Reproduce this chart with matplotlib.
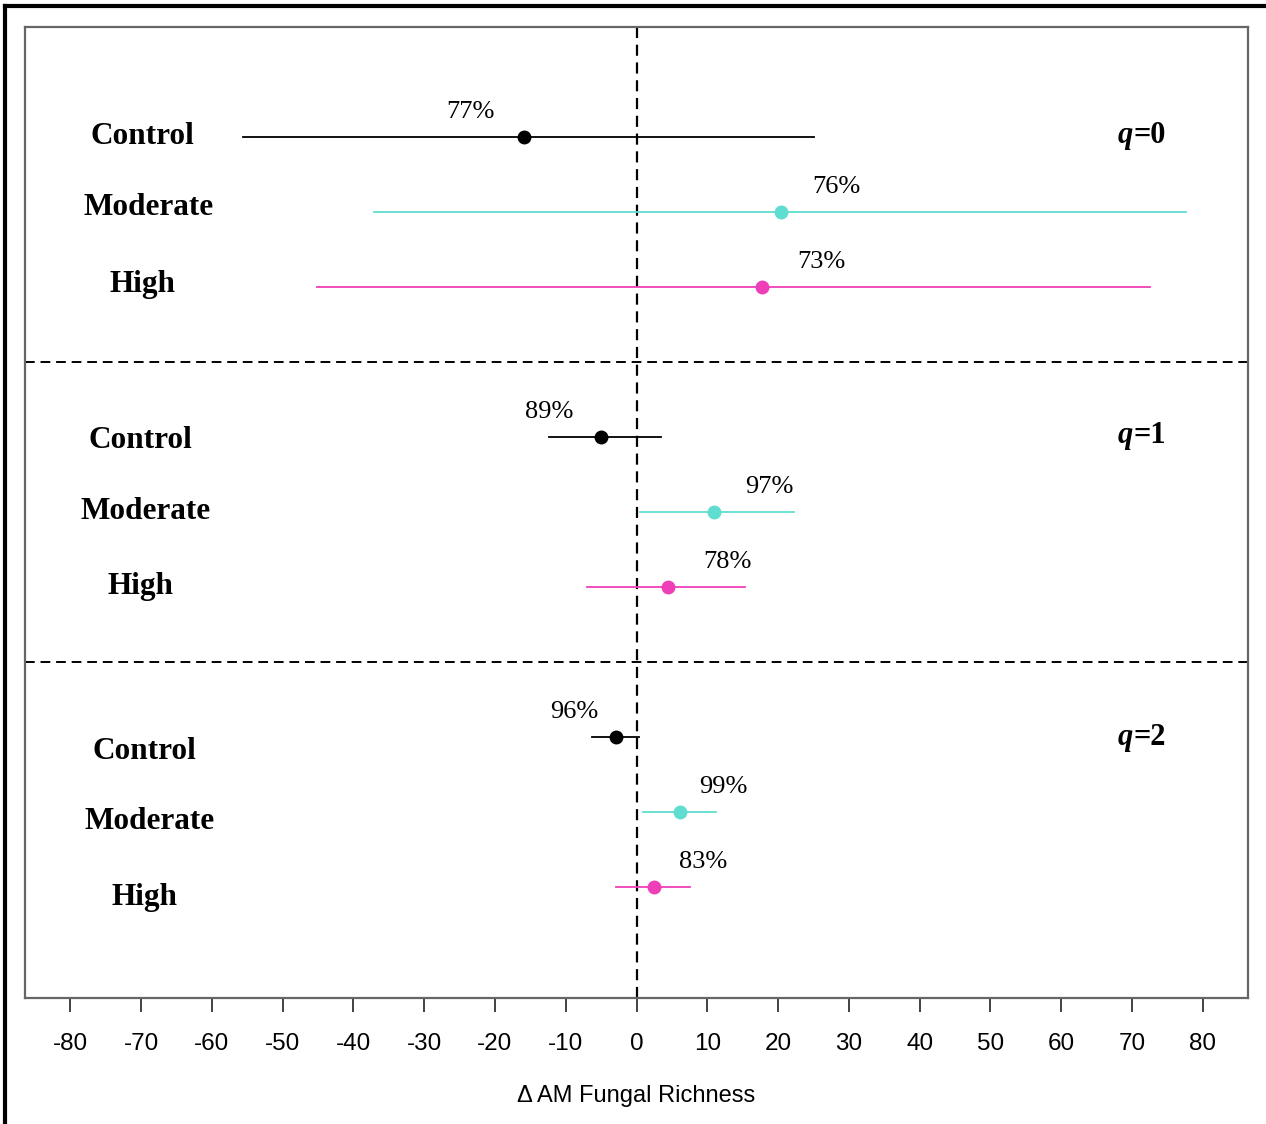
import matplotlib
matplotlib.use("Agg")
import matplotlib.pyplot as plt
from matplotlib.lines import Line2D

# ---- data ----
panels = ["q=0", "q=1", "q=2"]
treatments = ["Control", "Moderate", "High"]
estimate = [-15.9, 20.4, 17.8,   -5.0, 10.9, 4.4,   -2.9, 6.1, 2.5]
ci_low   = [-55.6, -37.1, -45.1, -12.4, 0.5, -7.0,  -6.3, 0.9, -2.9]
ci_high  = [25.1, 77.6, 72.5,    3.5, 22.2, 15.3,   0.4, 11.2, 7.6]
percent  = ["77%", "76%", "73%", "89%", "97%", "78%", "96%", "99%", "83%"]
xticks = list(range(-80, 81, 10))

# ---- style ----
colors = {"Control": "black", "Moderate": "#5fddd0", "High": "#ee3fb8"}
serif = "Liberation Serif"
sans = "Liberation Sans"

fig = plt.figure(figsize=(12.66, 11.24), dpi=100)
ax = fig.add_axes([25/1266, 1-998/1124, (1248-25)/1266, (998-27)/1124])

# row positions: 3 rows per panel, one empty row for each divider
ypos = []
for p in range(3):
    for t in range(3):
        ypos.append(p*4 + t)

lbl_dx = [-7.5, 7.8, 8.3, -7.3, 7.9, 8.4, -5.9, 6.1, 6.9]
name_dy = [-0.01, -0.06, -0.04, 0.04, -0.01, -0.01, 0.19, 0.12, 0.14]
name_x = [-69.8, -69.0, -69.8, -70.1, -69.3, -70.1, -69.5, -68.8, -69.5]

for i in range(9):
    tr = treatments[i % 3]
    c = colors[tr]
    y = ypos[i]
    ax.plot([ci_low[i], ci_high[i]], [y, y], color=c, lw=1.3, zorder=3)
    ax.plot(estimate[i], y, 'o', color=c, ms=9, zorder=4)
    ax.text(estimate[i] + lbl_dx[i], y - 0.33, percent[i], ha='center', va='center',
            fontsize=19, family=serif, zorder=5)
    ax.text(name_x[i], y + name_dy[i], tr, ha='center', va='center', fontsize=22.5,
            family=serif, fontweight='bold')

for p, name in enumerate(panels):
    q, rest = name.split("=")
    yy = p*4 - 0.02 + (0.02 if p == 2 else 0)
    ax.text(70.2, yy, q, ha='right', va='center', fontsize=22, family=serif,
            fontweight='bold', style='italic')
    ax.text(70.2, yy, "=" + rest, ha='left', va='center', fontsize=22, family=serif,
            fontweight='bold')

# dividers and zero line
for yd in [3, 7]:
    ax.axhline(yd, color='black', lw=1.4, ls=(0, (5, 3)), zorder=2)
ax.axvline(0, color='black', lw=1.6, ls=(0, (5, 3)), zorder=2)

ax.set_xlim(-86.4, 86.4)
ax.set_ylim(11.48, -1.467)
ax.set_yticks([])
ax.set_xticks(xticks)
ax.set_xticklabels([str(v) for v in xticks], family=sans, fontsize=17.5)
ax.tick_params(axis='x', length=10, width=1.3, color='#333333', pad=15)
for s in ax.spines.values():
    s.set_color('#666666')
    s.set_linewidth(1.6)
ax.set_xlabel("\u0394 AM Fungal Richness", family=sans, fontsize=17, labelpad=22)

# outer frame (top and left edges visible)
fig.add_artist(Line2D([5/1266, 1265/1266], [1-6/1124, 1-6/1124], color='black', lw=3,
                      transform=fig.transFigure))
fig.add_artist(Line2D([5/1266, 5/1266], [1-6/1124, 0], color='black', lw=3,
                      transform=fig.transFigure))

fig.savefig("out.png", dpi=100)
